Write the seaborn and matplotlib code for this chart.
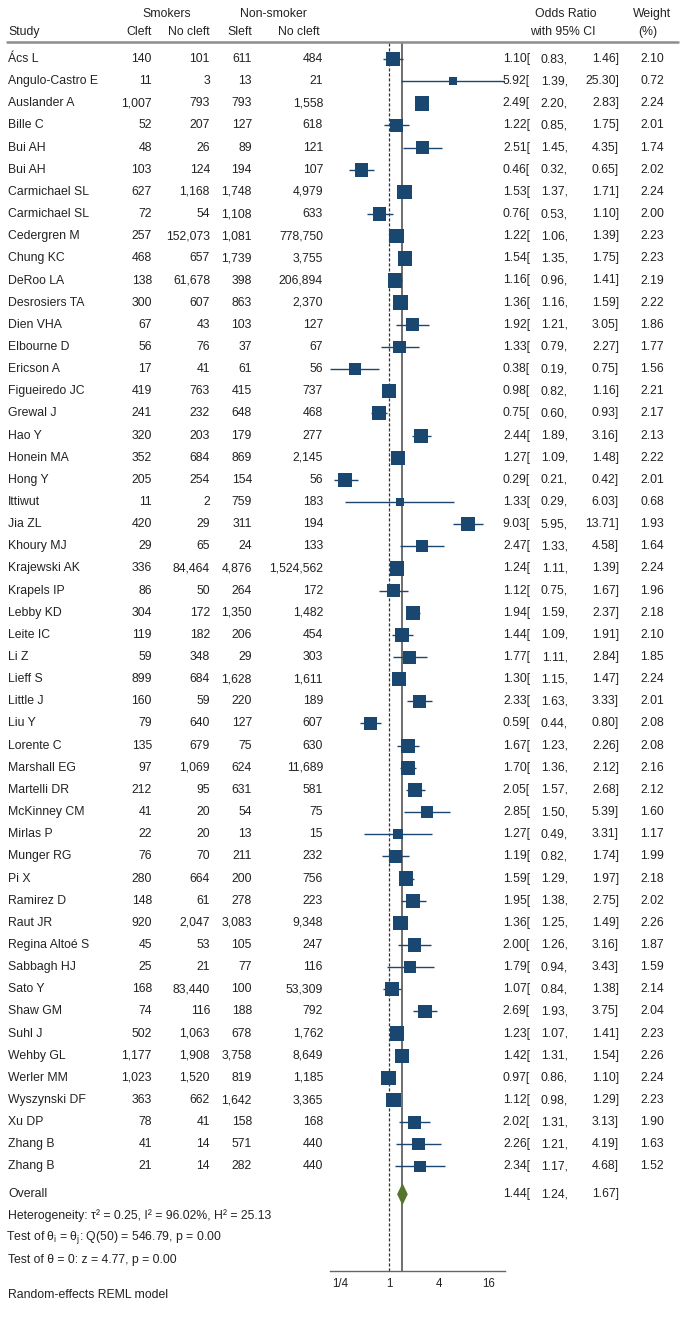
import numpy as np
import pandas as pd
import matplotlib
matplotlib.use('Agg')
import matplotlib.pyplot as plt
import matplotlib.transforms as mtransforms
from matplotlib.lines import Line2D
import seaborn as sns

# ---- data ----
studies = ['Ács L', 'Angulo-Castro E', 'Auslander A', 'Bille C', 'Bui AH', 'Bui AH',
           'Carmichael SL', 'Carmichael SL', 'Cedergren M', 'Chung KC', 'DeRoo LA',
           'Desrosiers TA', 'Dien VHA', 'Elbourne D', 'Ericson A', 'Figueiredo JC',
           'Grewal J', 'Hao Y', 'Honein MA', 'Hong Y', 'Ittiwut', 'Jia ZL', 'Khoury MJ',
           'Krajewski AK', 'Krapels IP', 'Lebby KD', 'Leite IC', 'Li Z', 'Lieff S',
           'Little J', 'Liu Y', 'Lorente C', 'Marshall EG', 'Martelli DR', 'McKinney CM',
           'Mirlas P', 'Munger RG', 'Pi X', 'Ramirez D', 'Raut JR', 'Regina Altoé S',
           'Sabbagh HJ', 'Sato Y', 'Shaw GM', 'Suhl J', 'Wehby GL', 'Werler MM',
           'Wyszynski DF', 'Xu DP', 'Zhang B', 'Zhang B']
smk_cleft = [140, 11, 1007, 52, 48, 103, 627, 72, 257, 468, 138, 300, 67, 56, 17, 419,
             241, 320, 352, 205, 11, 420, 29, 336, 86, 304, 119, 59, 899, 160, 79, 135,
             97, 212, 41, 22, 76, 280, 148, 920, 45, 25, 168, 74, 502, 1177, 1023, 363,
             78, 41, 21]
smk_nocleft = [101, 3, 793, 207, 26, 124, 1168, 54, 152073, 657, 61678, 607, 43, 76, 41,
               763, 232, 203, 684, 254, 2, 29, 65, 84464, 50, 172, 182, 348, 684, 59, 640,
               679, 1069, 95, 20, 20, 70, 664, 61, 2047, 53, 21, 83440, 116, 1063, 1908,
               1520, 662, 41, 14, 14]
non_cleft = [611, 13, 793, 127, 89, 194, 1748, 1108, 1081, 1739, 398, 863, 103, 37, 61,
             415, 648, 179, 869, 154, 759, 311, 24, 4876, 264, 1350, 206, 29, 1628, 220,
             127, 75, 624, 631, 54, 13, 211, 200, 278, 3083, 105, 77, 100, 188, 678, 3758,
             819, 1642, 158, 571, 282]
non_nocleft = [484, 21, 1558, 618, 121, 107, 4979, 633, 778750, 3755, 206894, 2370, 127,
               67, 56, 737, 468, 277, 2145, 56, 183, 194, 133, 1524562, 172, 1482, 454, 303,
               1611, 189, 607, 630, 11689, 581, 75, 15, 232, 756, 223, 9348, 247, 116,
               53309, 792, 1762, 8649, 1185, 3365, 168, 440, 440]
or_est = [1.10, 5.92, 2.49, 1.22, 2.51, 0.46, 1.53, 0.76, 1.22, 1.54, 1.16, 1.36, 1.92,
          1.33, 0.38, 0.98, 0.75, 2.44, 1.27, 0.29, 1.33, 9.03, 2.47, 1.24, 1.12, 1.94,
          1.44, 1.77, 1.30, 2.33, 0.59, 1.67, 1.70, 2.05, 2.85, 1.27, 1.19, 1.59, 1.95,
          1.36, 2.00, 1.79, 1.07, 2.69, 1.23, 1.42, 0.97, 1.12, 2.02, 2.26, 2.34]
ci_lo = [0.83, 1.39, 2.20, 0.85, 1.45, 0.32, 1.37, 0.53, 1.06, 1.35, 0.96, 1.16, 1.21,
         0.79, 0.19, 0.82, 0.60, 1.89, 1.09, 0.21, 0.29, 5.95, 1.33, 1.11, 0.75, 1.59,
         1.09, 1.11, 1.15, 1.63, 0.44, 1.23, 1.36, 1.57, 1.50, 0.49, 0.82, 1.29, 1.38,
         1.25, 1.26, 0.94, 0.84, 1.93, 1.07, 1.31, 0.86, 0.98, 1.31, 1.21, 1.17]
ci_hi = [1.46, 25.30, 2.83, 1.75, 4.35, 0.65, 1.71, 1.10, 1.39, 1.75, 1.41, 1.59, 3.05,
         2.27, 0.75, 1.16, 0.93, 3.16, 1.48, 0.42, 6.03, 13.71, 4.58, 1.39, 1.67, 2.37,
         1.91, 2.84, 1.47, 3.33, 0.80, 2.26, 2.12, 2.68, 5.39, 3.31, 1.74, 1.97, 2.75,
         1.49, 3.16, 3.43, 1.38, 3.75, 1.41, 1.54, 1.10, 1.29, 3.13, 4.19, 4.68]
weight = [2.10, 0.72, 2.24, 2.01, 1.74, 2.02, 2.24, 2.00, 2.23, 2.23, 2.19, 2.22, 1.86,
          1.77, 1.56, 2.21, 2.17, 2.13, 2.22, 2.01, 0.68, 1.93, 1.64, 2.24, 1.96, 2.18,
          2.10, 1.85, 2.24, 2.01, 2.08, 2.08, 2.16, 2.12, 1.60, 1.17, 1.99, 2.18, 2.02,
          2.26, 1.87, 1.59, 2.14, 2.04, 2.23, 2.26, 2.24, 2.23, 1.90, 1.63, 1.52]
overall = (1.44, 1.24, 1.67)
ticks = [0.25, 1, 4, 16]
tick_labels = ['1/4', '1', '4', '16']

df = pd.DataFrame({'study': studies, 'sc': smk_cleft, 'snc': smk_nocleft,
                   'nc': non_cleft, 'nnc': non_nocleft, 'or_est': or_est,
                   'lo': ci_lo, 'hi': ci_hi, 'weight': weight})
df['row'] = np.arange(len(df))

NAVY = '#1a476f'
GREEN = '#55752f'
TXT = '#222222'
W, H = 686, 1318
FS = 8.8

sns.set_style('white')
plt.rcParams['font.family'] = ['Liberation Sans', 'DejaVu Sans']
plt.rcParams['mathtext.fontset'] = 'custom'
plt.rcParams['mathtext.rm'] = 'Liberation Sans'
plt.rcParams['mathtext.it'] = 'Liberation Sans:italic'

fig = plt.figure(figsize=(W / 100, H / 100), dpi=100)
# plot panel: x 330..505 px, y 42..1271 px (from top)
ax = fig.add_axes([330 / W, 1 - 1271 / H, (505 - 330) / W, (1271 - 42) / H])

# row r sits at pixel 59 + 22.15*r
ax.set_ylim((1271 - 59) / 22.15, (42 - 59) / 22.15)
ax.set_xscale('log', base=2)
ax.set_xlim(min(ci_lo), max(ci_hi))

ax.axvline(1, color='#333333', lw=0.9, ls=(0, (2.5, 1.5)), zorder=1)
ax.axvline(overall[0], color='#555555', lw=1.2, zorder=1)

ax.hlines(df['row'], df['lo'], df['hi'], color=NAVY, lw=1.0, zorder=2)
k = 48.0
sns.scatterplot(data=df, x='or_est', y='row', size='weight',
                sizes=(k * min(weight), k * max(weight)),
                size_norm=(min(weight), max(weight)),
                marker='s', color=NAVY, linewidth=0, legend=False, ax=ax, zorder=3)

r_ov = 51.25
ax.fill([overall[1], overall[0], overall[2], overall[0]],
        [r_ov, r_ov - 0.5, r_ov, r_ov + 0.5], color=GREEN, lw=0, zorder=3)

ax.set_xticks(ticks)
ax.set_xticklabels(tick_labels)
ax.minorticks_off()
ax.set_yticks([])
ax.set_xlabel('')
ax.set_ylabel('')
ax.tick_params(axis='x', length=3, color='#555555', labelsize=FS - 0.5,
               labelcolor=TXT, pad=2)
for s in ['top', 'left', 'right']:
    ax.spines[s].set_visible(False)
ax.spines['bottom'].set_color('#666666')
ax.spines['bottom'].set_linewidth(1.0)

# ---- text columns ----
trans = mtransforms.blended_transform_factory(fig.transFigure, ax.transData)


def col(x, y, s, ha='right'):
    ax.text(x / W, y, s, transform=trans, ha=ha, va='center', fontsize=FS, color=TXT)


for r in df.itertuples():
    col(8, r.row, r.study, ha='left')
    col(152, r.row, f'{r.sc:,}')
    col(210, r.row, f'{r.snc:,}')
    col(252, r.row, f'{r.nc:,}')
    col(323, r.row, f'{r.nnc:,}')
    col(530, r.row, f'{r.or_est:.2f}[')
    col(568, r.row, f'{r.lo:.2f},')
    col(619, r.row, f'{r.hi:.2f}]')
    col(664, r.row, f'{r.weight:.2f}')

col(8, r_ov, 'Overall', ha='left')
col(530, r_ov, f'{overall[0]:.2f}[')
col(568, r_ov, f'{overall[1]:.2f},')
col(619, r_ov, f'{overall[2]:.2f}]')
col(8, 52.2, 'Heterogeneity: τ² = 0.25, I² = 96.02%, H² = 25.13', ha='left')
col(6.5, 53.2, r'Test of θ$_\mathrm{i}$ = θ$_\mathrm{j}$: Q(50) = 546.79, p = 0.00', ha='left')
col(8, 54.2, 'Test of θ = 0: z = 4.77, p = 0.00', ha='left')
col(8, (1295 - 59) / 22.15, 'Random-effects REML model', ha='left')

# ---- header ----
def head(x, y, s, ha='center'):
    fig.text(x / W, 1 - y / H, s, ha=ha, va='center', fontsize=FS, color=TXT)


head(167, 14, 'Smokers')
head(273, 14, 'Non-smoker')
head(8, 32, 'Study', ha='left')
head(152, 32, 'Cleft', ha='right')
head(210, 32, 'No cleft', ha='right')
head(252, 32, 'Sleft', ha='right')
head(320, 32, 'No cleft', ha='right')
head(566, 14, 'Odds Ratio')
head(563, 32, 'with 95% CI')
head(652, 14, 'Weight')
head(648, 32, '(%)')
fig.add_artist(Line2D([7 / W, 678 / W], [1 - 42 / H, 1 - 42 / H],
                      color='#8c8c8c', lw=1.8))

fig.savefig('out.png', dpi=100, facecolor='white')
